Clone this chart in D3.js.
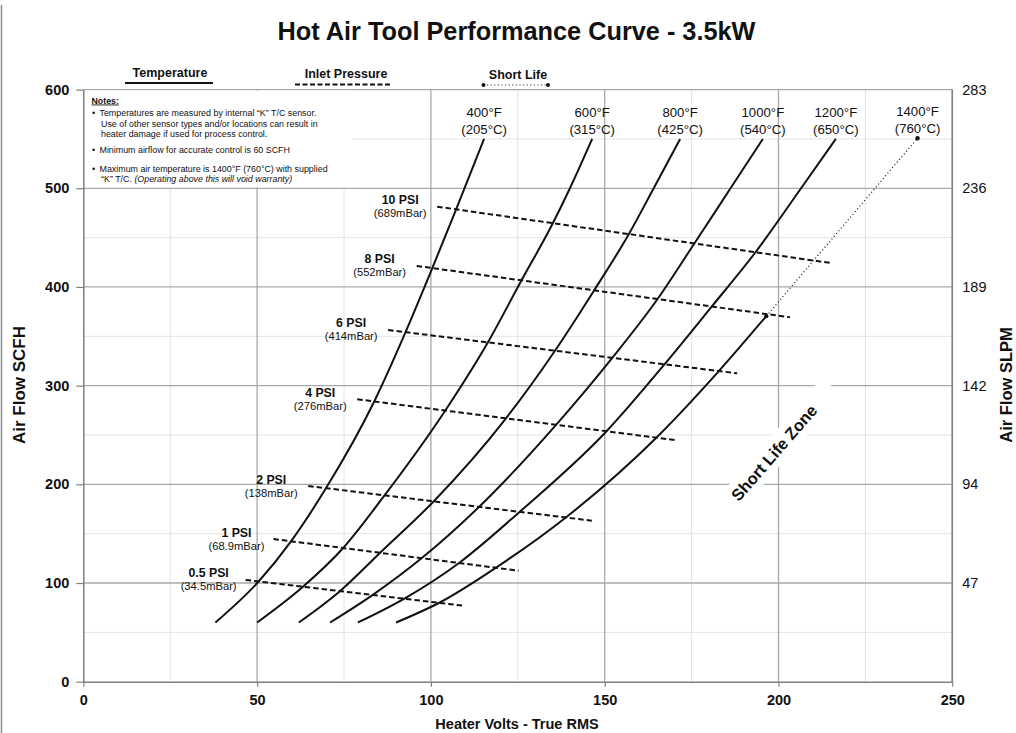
<!DOCTYPE html>
<html><head><meta charset="utf-8">
<script src="https://cdn.jsdelivr.net/npm/d3@7"></script>
<style>
body{margin:0;background:#fff}
svg{display:block}
text{font-family:"Liberation Sans",Arial,Helvetica,sans-serif;fill:#111}
</style>
</head><body>
<svg id="c" width="1016" height="733"></svg>
<script>
// ---------- data ----------
const voltTicks = [0, 50, 100, 150, 200, 250];
const voltMinor = [25, 75, 125, 175, 225];
const flowTicks = [0, 100, 200, 300, 400, 500, 600];
const flowMinor = [50, 150, 250, 350, 450, 550];
const slpmTicks = [100, 200, 300, 400, 500, 600];
const slpmLabels = ["47", "94", "142", "189", "236", "283"];

const tempF = ["400°F", "600°F", "800°F", "1000°F", "1200°F", "1400°F"];
const tempC = ["(205°C)", "(315°C)", "(425°C)", "(540°C)", "(650°C)", "(760°C)"];
// [volts, scfh]
const curve400 = [[38,60],[50.3,101],[59.7,142],[69.8,196],[83.7,284],[92.8,355],[100.4,419],[107.2,478],[115.3,550]];
const curve600 = [[50,60],[63.1,96],[74.5,134.5],[86.6,188.5],[104.1,274.6],[116.5,344.5],[125.8,405],[135,464],[140,500],[146.4,550]];
const curve800 = [[62,60],[73.9,92],[85.4,130.7],[100.7,182.4],[121.6,266.9],[135.7,335.4],[146.9,396.2],[156.8,452.7],[164.1,500],[171.7,550]];
const curve1000 = [[71,60],[83.3,88],[97.3,125],[113.9,177.3],[136.2,261.1],[152.3,328.7],[165,386.8],[175.7,443.6],[186.2,500],[195.5,550]];
const curve1200 = [[79,60],[92.5,84.5],[108.2,120.6],[125.6,172.3],[150.4,253.3],[167.3,322],[181,381],[193,433.4],[206.5,500],[216.5,550]];
const curve1400 = [[90,60],[102.4,80],[118.9,116],[139.1,167.2],[165,247.7],[182.7,314.2],[196.5,370.5]];
const shortLife1400 = [[196.5,370.5],[240,550.7]];

const psiLabels = ["0.5 PSI", "1 PSI", "2 PSI", "4 PSI", "6 PSI", "8 PSI", "10 PSI"];
const mbarLabels = ["(34.5mBar)", "(68.9mBar)", "(138mBar)", "(276mBar)", "(414mBar)", "(552mBar)", "(689mBar)"];
const psiStart = [[46.7,103.1],[54.7,144.6],[64.7,198.3],[78.8,286.2],[87.7,356.4],[95.9,421.3],[101.8,481.4]];
const psiEnd = [[109.3,77],[125.2,112.5],[146.3,163.2],[170.2,244.9],[188.1,312.5],[203.3,369.3],[214.8,424.4]];

const notes = [
  "Temperatures are measured by internal \u201CK\u201D T/C sensor.",
  "Use of  other sensor types and/or locations can result in",
  "heater damage if used for process control.",
  "Minimum airflow for accurate control is 60 SCFH",
  "Maximum air temperature is 1400°F (760°C)  with supplied"
];

// ---------- setup ----------
const svg = d3.select("#c");
svg.append("rect").attr("width",1016).attr("height",733).attr("fill","#fff");
const x = d3.scaleLinear().domain([0,250]).range([83.3,952.3]);
const y = d3.scaleLinear().domain([0,600]).range([681.7,89.6]);

// page border
svg.append("line").attr("x1",1.5).attr("x2",1.5).attr("y1",5).attr("y2",733)
  .attr("stroke","#8a8a8a").attr("stroke-width",1.5);

// title
svg.append("text").attr("x",516.5).attr("y",40).attr("text-anchor","middle")
  .attr("font-size",25.3).attr("font-weight","bold")
  .text("Hot Air Tool Performance Curve - 3.5kW");

// minor grid
const g = svg.append("g");
g.selectAll(".vm").data(voltMinor).join("line")
  .attr("x1",d=>x(d)).attr("x2",d=>x(d)).attr("y1",y(0)).attr("y2",y(600))
  .attr("stroke","#e4e4e4").attr("stroke-width",1);
g.selectAll(".hm").data(flowMinor).join("line")
  .attr("x1",x(0)).attr("x2",x(250)).attr("y1",d=>y(d)).attr("y2",d=>y(d))
  .attr("stroke","#e4e4e4").attr("stroke-width",1);

// notes box background
svg.append("rect").attr("x",x(0)+1).attr("y",y(600)+1).attr("width",268).attr("height",y(500)-y(600)-2)
  .attr("fill","#fff");

// major grid
g.append("g").selectAll("line").data(voltTicks.slice(1)).join("line")
  .attr("x1",d=>x(d)).attr("x2",d=>x(d)).attr("y1",y(0)).attr("y2",y(600))
  .attr("stroke","#a8a8a8").attr("stroke-width",1.3);
g.append("g").selectAll("line").data(flowTicks.slice(1)).join("line")
  .attr("x1",x(0)).attr("x2",x(250)).attr("y1",d=>y(d)).attr("y2",d=>y(d))
  .attr("stroke","#a8a8a8").attr("stroke-width",1.3);

// axes
const axL = svg.append("g").attr("transform",`translate(${x(0)},0)`)
  .call(d3.axisLeft(y).tickValues(flowTicks).tickSize(7).tickPadding(7).tickSizeOuter(0));
const axB = svg.append("g").attr("transform",`translate(0,${y(0)})`)
  .call(d3.axisBottom(x).tickValues(voltTicks).tickSize(5).tickPadding(8).tickSizeOuter(0));
const axR = svg.append("g").attr("transform",`translate(${x(250)},0)`)
  .call(d3.axisRight(y).tickValues(slpmTicks).tickFormat((d,i)=>slpmLabels[i]).tickSize(0).tickPadding(10));
[axL,axB,axR].forEach(a=>{
  a.select(".domain").attr("stroke","#808080").attr("stroke-width",1.5);
  a.selectAll(".tick line").attr("stroke","#808080").attr("stroke-width",1.2);
  a.selectAll("text").attr("font-size",14.5).attr("fill","#111")
   .style("font-family",'"Liberation Sans",Arial,sans-serif');
});
axL.selectAll("text").attr("font-weight","bold");
axB.selectAll("text").attr("font-weight","bold");
axR.select(".domain").remove();
svg.append("line").attr("x1",x(250)).attr("x2",x(250)).attr("y1",y(0)).attr("y2",y(600))
  .attr("stroke","#808080").attr("stroke-width",1.5);

// axis titles
svg.append("text").attr("transform","translate(25,385) rotate(-90)").attr("text-anchor","middle")
  .attr("font-size",17).attr("font-weight","bold").text("Air Flow SCFH");
svg.append("text").attr("transform","translate(1012,385) rotate(-90)").attr("text-anchor","middle")
  .attr("font-size",16.5).attr("font-weight","bold").text("Air Flow SLPM");
svg.append("text").attr("x",517).attr("y",729).attr("text-anchor","middle")
  .attr("font-size",14.5).attr("font-weight","bold").text("Heater Volts - True RMS");

// Short Life Zone label with white box
const slz = svg.append("g").attr("transform",`translate(${x(198.7)},${y(232)}) rotate(-49)`);
slz.append("rect").attr("x",-88).attr("y",-13).attr("width",176).attr("height",26).attr("fill","#fff");
slz.append("text").attr("text-anchor","middle").attr("y",6).attr("font-size",16.5).attr("font-weight","bold")
  .text("Short Life Zone");

// notes
const nt = svg.append("g");
nt.append("text").attr("x",91.5).attr("y",103.5).attr("font-weight","bold")
  .attr("text-decoration","underline").attr("font-size",8.8).text("Notes:");
const noteY = [116, 126.5, 137, 153, 171.5];
const bullet = [true,false,false,true,true];
notes.forEach((t,i)=>{
  if(bullet[i]) nt.append("text").attr("x",92).attr("y",noteY[i]).attr("font-size",9).text("•");
  nt.append("text").attr("x",bullet[i]?99.5:101).attr("y",noteY[i]).attr("font-size",8.9).text(t);
});
const last = nt.append("text").attr("x",101).attr("y",182).attr("font-size",8.9);
last.append("tspan").text("\u201CK\u201D T/C.  ");
last.append("tspan").attr("font-style","italic").text("(Operating above this will void warranty)");

// legend
const lg = svg.append("g").attr("font-size",12.5).attr("font-weight","bold");
lg.append("text").attr("x",170).attr("y",77).attr("text-anchor","middle").text("Temperature");
lg.append("line").attr("x1",125).attr("x2",213).attr("y1",83).attr("y2",83).attr("stroke","#111").attr("stroke-width",2.2);
lg.append("text").attr("x",346).attr("y",77.5).attr("text-anchor","middle").text("Inlet Pressure");
lg.append("line").attr("x1",295).attr("x2",391).attr("y1",84.5).attr("y2",84.5).attr("stroke","#111")
  .attr("stroke-width",2).attr("stroke-dasharray","5,2.5");
lg.append("text").attr("x",518).attr("y",79).attr("text-anchor","middle").text("Short Life");
lg.append("line").attr("x1",483.5).attr("x2",548).attr("y1",85).attr("y2",85).attr("stroke","#111")
  .attr("stroke-width",1.2).attr("stroke-dasharray","1,2.6");
[483.5,548].forEach(cx=>lg.append("circle").attr("cx",cx).attr("cy",85).attr("r",2).attr("fill","#111"));

// pressure lines
const pl = svg.append("g");
psiStart.forEach((s,i)=>{
  const e = psiEnd[i];
  pl.append("line").attr("x1",x(s[0])).attr("y1",y(s[1])).attr("x2",x(e[0])).attr("y2",y(e[1]))
    .attr("stroke","#111").attr("stroke-width",2).attr("stroke-dasharray","5.5,3");
  pl.append("text").attr("x",x(s[0])-37).attr("y",y(s[1])-2.5).attr("text-anchor","middle")
    .attr("font-size",12.3).attr("font-weight","bold").text(psiLabels[i]);
  pl.append("text").attr("x",x(s[0])-37).attr("y",y(s[1])+10.5).attr("text-anchor","middle")
    .attr("font-size",11.2).text(mbarLabels[i]);
});

// temperature curves
const line = d3.line().x(d=>x(d[0])).y(d=>y(d[1])).curve(d3.curveMonotoneX);
const curves = [curve400, curve600, curve800, curve1000, curve1200, curve1400];
const cg = svg.append("g");
curves.forEach(c=>{
  cg.append("path").attr("d",line(c)).attr("fill","none").attr("stroke","#111").attr("stroke-width",2);
});
cg.append("path").attr("d",line(shortLife1400)).attr("fill","none").attr("stroke","#111")
  .attr("stroke-width",1.2).attr("stroke-dasharray","1,2.6");
shortLife1400.forEach(p=>cg.append("circle").attr("cx",x(p[0])).attr("cy",y(p[1])).attr("r",2.2).attr("fill","#111"));

// temperature labels
const tops = [curve400, curve600, curve800, curve1000, curve1200, shortLife1400].map(c=>c[c.length-1]);
tops.forEach((p,i)=>{
  const px = x(p[0]), py = y(p[1]);
  svg.append("text").attr("x",px).attr("y",py-22).attr("text-anchor","middle").attr("font-size",13.2).text(tempF[i]);
  svg.append("text").attr("x",px).attr("y",py-5).attr("text-anchor","middle").attr("font-size",13.2).text(tempC[i]);
});
</script>
</body></html>
